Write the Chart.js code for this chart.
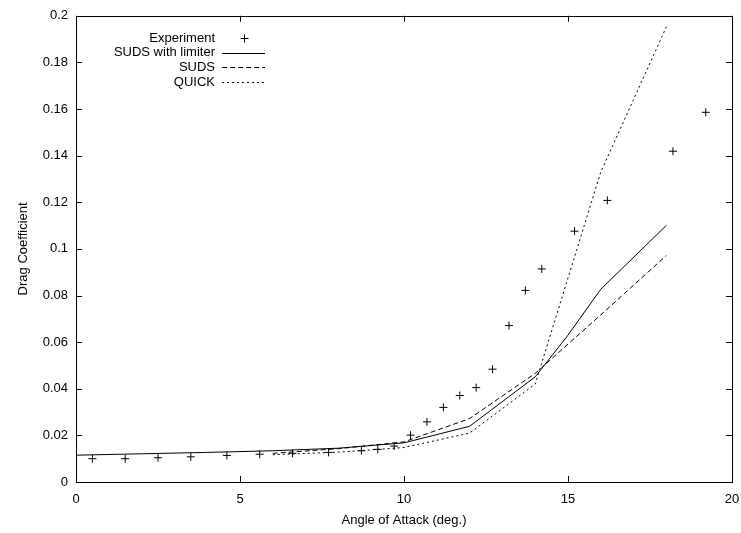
<!DOCTYPE html>
<html>
<head>
<meta charset="utf-8">
<script src="https://cdn.jsdelivr.net/npm/chart.js@4/dist/chart.umd.min.js"></script>
<style>
  html, body { margin: 0; padding: 0; background: #fff; }
  #wrap { width: 741px; height: 533px; position: relative; }
</style>
</head>
<body>
<div id="wrap"><canvas id="chart"></canvas></div>
<script>
  "use strict";

  // Experiment: angle of attack (deg.) and measured drag coefficient
  const expAngle = [0.5, 1.5, 2.5, 3.5, 4.6, 5.6, 6.6, 7.7, 8.7, 9.2, 9.7, 10.2, 10.7,
    11.2, 11.7, 12.2, 12.7, 13.2, 13.7, 14.2, 15.2, 16.2, 18.2, 19.2];
  const expDrag = [0.0100, 0.0100, 0.0104, 0.0108, 0.0114, 0.0119, 0.0123, 0.0127, 0.0134,
    0.0140, 0.0154, 0.0201, 0.0258, 0.0320, 0.0371, 0.0405, 0.0484, 0.0671, 0.0822,
    0.0914, 0.1076, 0.1208, 0.1419, 0.1586];

  const limiterAngle = [0, 2, 4, 6, 8, 10, 12, 14, 15, 16, 18];
  const limiterDrag = [0.0115, 0.0121, 0.0127, 0.0134, 0.0145, 0.0168, 0.0239, 0.0451, 0.0630, 0.0827, 0.1101];

  const sudsAngle = [6, 8, 10, 12, 14, 16, 18];
  const sudsDrag = [0.0123, 0.0143, 0.0172, 0.0272, 0.0466, 0.0717, 0.0972];

  const quickAngle = [6, 8, 10, 12, 14, 16, 18];
  const quickDrag = [0.0117, 0.0128, 0.0148, 0.0210, 0.0420, 0.1330, 0.1953];

  const xTicks = [0, 5, 10, 15, 20];
  const yTicks = [0, 0.02, 0.04, 0.06, 0.08, 0.1, 0.12, 0.14, 0.16, 0.18, 0.2];

  const FONT = "'Liberation Sans', Arial, sans-serif";
  const toPts = (xs, ys) => xs.map((x, i) => ({ x: x, y: ys[i] }));

  // gnuplot-like frame: box, inward ticks mirrored on all sides, right-aligned key
  const framePlugin = {
    id: "frame",
    afterDraw(chart) {
      const { ctx, chartArea: a, scales } = chart;
      ctx.save();
      ctx.strokeStyle = "#000";
      ctx.lineWidth = 1;
      ctx.setLineDash([]);
      ctx.strokeRect(Math.round(a.left) + 0.5, Math.round(a.top) + 0.5,
        Math.round(a.right - a.left), Math.round(a.bottom - a.top));
      ctx.beginPath();
      xTicks.forEach((v) => {
        const px = Math.round(scales.x.getPixelForValue(v)) + 0.5;
        ctx.moveTo(px, a.bottom); ctx.lineTo(px, a.bottom - 6);
        ctx.moveTo(px, a.top); ctx.lineTo(px, a.top + 6);
      });
      yTicks.forEach((v) => {
        const py = Math.round(scales.y.getPixelForValue(v)) + 0.5;
        ctx.moveTo(a.left, py); ctx.lineTo(a.left + 6, py);
        ctx.moveTo(a.right, py); ctx.lineTo(a.right - 6, py);
      });
      ctx.stroke();

      // key
      ctx.font = "13px " + FONT;
      ctx.fillStyle = "#000";
      ctx.textAlign = "right";
      ctx.textBaseline = "middle";
      const textX = 215, x0 = 222, x1 = 265;
      chart.data.datasets.forEach((ds, i) => {
        const y = 38 + i * 14.7;
        ctx.fillText(ds.label, textX, y);
        const yy = Math.round(y) + 0.5;
        ctx.beginPath();
        if (ds.showLine) {
          ctx.setLineDash(ds.borderDash || []);
          ctx.moveTo(x0, yy); ctx.lineTo(x1, yy);
        } else {
          ctx.setLineDash([]);
          const cx = Math.round((x0 + x1) / 2) + 0.5;
          ctx.moveTo(cx - 4, yy); ctx.lineTo(cx + 4, yy);
          ctx.moveTo(cx, yy - 4); ctx.lineTo(cx, yy + 4);
        }
        ctx.stroke();
      });
      ctx.restore();
    },
  };

  const lineStyle = (label, data, dash) => ({
    label: label,
    data: data,
    showLine: true,
    borderColor: "#000",
    borderWidth: 1,
    borderDash: dash,
    pointRadius: 0,
    fill: false,
  });

  new Chart(document.getElementById("chart"), {
    type: "scatter",
    data: {
      datasets: [
        {
          label: "Experiment",
          data: toPts(expAngle, expDrag),
          showLine: false,
          pointStyle: "cross",
          pointRadius: 4,
          borderColor: "#000",
          borderWidth: 1,
          backgroundColor: "#000",
        },
        lineStyle("SUDS with limiter", toPts(limiterAngle, limiterDrag), []),
        lineStyle("SUDS", toPts(sudsAngle, sudsDrag), [5, 3]),
        lineStyle("QUICK", toPts(quickAngle, quickDrag), [2, 3]),
      ],
    },
    options: {
      responsive: true,
      maintainAspectRatio: false,
      animation: false,
      layout: { padding: { left: 0, top: 15, right: 9, bottom: 0 } },
      plugins: { legend: { display: false }, tooltip: { enabled: false } },
      scales: {
        x: {
          type: "linear",
          min: 0,
          max: 20,
          afterBuildTicks: (s) => { s.ticks = xTicks.map((v) => ({ value: v })); },
          afterFit: (s) => { s.height = 51; },
          grid: { display: false, drawTicks: true, tickLength: 10, tickColor: "rgba(0,0,0,0)" },
          border: { display: false },
          ticks: { color: "#000", font: { family: FONT, size: 13 }, padding: 0, maxRotation: 0 },
          title: { display: true, text: "Angle of Attack (deg.)", color: "#000",
            font: { family: FONT, size: 13 }, padding: { top: 4, bottom: 5 } },
        },
        y: {
          type: "linear",
          min: 0,
          max: 0.2,
          afterBuildTicks: (s) => { s.ticks = yTicks.map((v) => ({ value: v })); },
          afterFit: (s) => { s.width = 76; },
          grid: { display: false, drawTicks: false },
          border: { display: false },
          ticks: { color: "#000", font: { family: FONT, size: 13 }, padding: 8,
            callback: (v) => String(Math.round(v * 100) / 100) },
          title: { display: true, text: "Drag Coefficient", color: "#000",
            font: { family: FONT, size: 13 }, padding: { top: 16, bottom: 4 } },
        },
      },
    },
    plugins: [framePlugin],
  });
</script>
</body>
</html>
